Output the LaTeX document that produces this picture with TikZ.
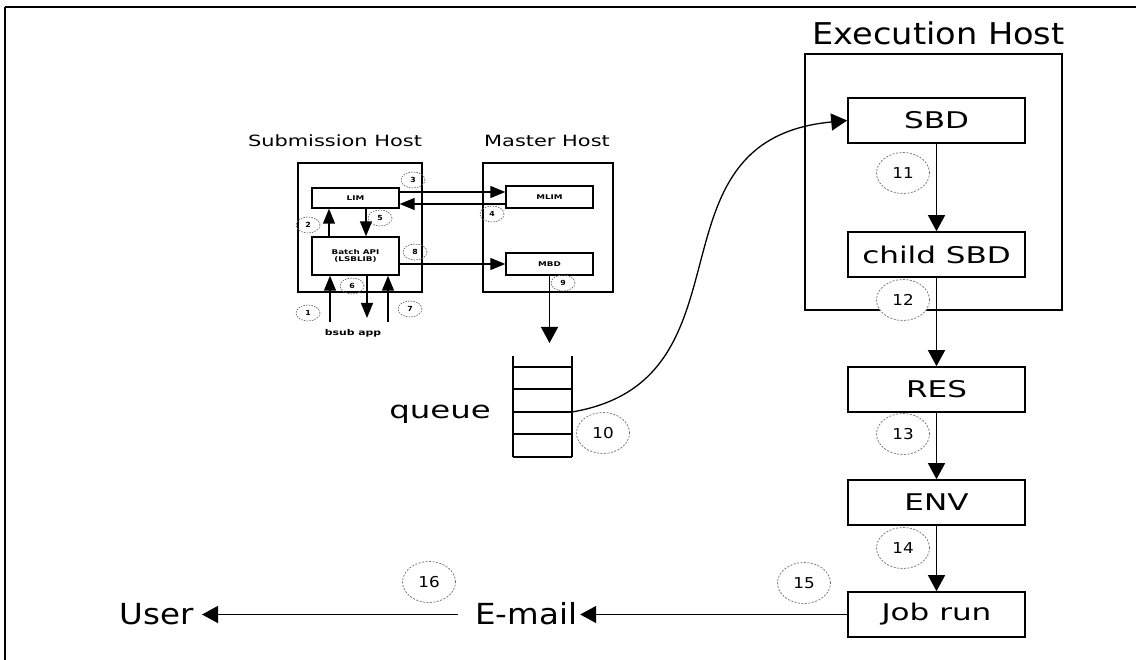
\documentclass[tikz,border=0pt]{standalone}
\usepackage{fontspec}
\setmainfont{DejaVu Sans}
\newfontfamily\widefont[FakeStretch=1.35]{DejaVu Sans}
\newfontfamily\midfont[FakeStretch=1.12]{DejaVu Sans}
\usetikzlibrary{arrows.meta,shapes.geometric}
\begin{document}
\begin{tikzpicture}[x=1pt,y=-1pt,
  box/.style={draw, line width=1.6pt, inner sep=0pt, minimum width=177pt, minimum height=45pt,
    font=\widefont\fontsize{23}{26}\selectfont},
  host/.style={draw, line width=1.6pt, inner sep=0pt},
  hostlabel/.style={anchor=base, inner sep=0pt, font=\widefont\fontsize{15.5}{16}\selectfont},
  sbox/.style={draw, line width=1.4pt, inner sep=0pt, minimum width=87pt, align=center,
    font=\widefont\bfseries\fontsize{6.5}{7.5}\selectfont},
  num/.style={draw=gray!85!black, fill=white, dash pattern=on 2pt off 1.5pt, line width=0.7pt, ellipse,
    inner sep=0pt, minimum width=53pt, minimum height=41pt, font=\midfont\fontsize{15}{15}\selectfont},
  snum/.style={draw=gray!85!black, dash pattern=on 1.5pt off 1.2pt, line width=0.7pt, ellipse,
    inner sep=0pt, minimum width=24pt, minimum height=16pt, font=\midfont\bfseries\fontsize{7}{7}\selectfont},
  arr/.style={-{Triangle[length=16pt,width=17pt]}, line width=1.4pt},
  sarr/.style={-{Triangle[length=15pt,width=12pt]}, line width=1.4pt},
  big/.style={inner sep=0pt, font=\midfont\fontsize{29}{30}\selectfont},
]
\useasboundingbox (0,0) rectangle (1136,660);
% frame
\draw[line width=2pt] (1136,7) -- (5,7);
\draw[line width=1.5pt] (5,7) -- (5,660);

% ---------- execution host ----------
\node[host, minimum width=257pt, minimum height=256pt] (exec) at (933.5,182) {};
\node[anchor=base, inner sep=0pt, font=\midfont\fontsize{30}{30}\selectfont] (execlabel) at (938.5,45) {Execution Host};
\node[box] (sbd) at (936.5,120.5) {SBD};
\node[box] (child) at (936.5,254.5) {child SBD};
\node[box] (res) at (936.5,389.5) {RES};
\node[box] (env) at (936.5,502.5) {ENV};
\node[box] (job) at (936.5,614.5) {Job run};

\draw[arr] (sbd) -- (child);
\draw[arr] (child) -- (res);
\draw[arr] (res) -- (env);
\draw[arr] (env) -- (job);

% ---------- bottom row ----------
\node[big, anchor=base west, inner xsep=3pt] (email) at (472,624) {E-mail};
\node[big, anchor=base east, inner xsep=8pt] (user) at (202,624) {User};
\draw[arr] (job.west) -- (job.west -| email.east);
\coordinate (estart) at ([xshift=-14pt]email.west |- job.west);
\draw[arr] (estart) -- (estart -| user.east);

% ---------- submission / master hosts ----------
\node[host, minimum width=124pt, minimum height=129pt] (subm) at (360,227.5) {};
\node[host, minimum width=130pt, minimum height=129pt] (mast) at (548,227.5) {};
\node[hostlabel] (submlabel) at (335,147) {Submission Host};
\node[hostlabel] (mastlabel) at (547,147) {Master Host};

\node[sbox, minimum height=20pt] (lim) at (355.5,198) {LIM};
\node[sbox, minimum height=38pt] (batch) at (355.5,256) {Batch API\\(LSBLIB)};
\node[sbox, minimum height=22pt] (mlim) at (549.5,197) {MLIM};
\node[sbox, minimum height=22pt] (mbd) at (549.5,264) {MBD};

\coordinate (y192) at (0,192);
\coordinate (y204) at (0,204);
\coordinate (x329) at (329,0);
\coordinate (x366) at (366,0);
\draw[sarr] (lim.east |- y192) -- (mlim.west |- y192);
\draw[sarr] (mlim.west |- y204) -- (lim.east |- y204);
\draw[sarr] (batch.east |- mbd.west) -- (mbd.west);
\draw[sarr] (batch.north -| x329) -- (lim.south -| x329);
\draw[sarr] (lim.south -| x366) -- (batch.north -| x366);

\coordinate (b1) at (330,322);
\coordinate (b2) at (367,318);
\coordinate (b3) at (388,322);
\draw[sarr] (b1) -- (b1 |- batch.south);
\draw[sarr] (batch.south -| b2) -- (b2);
\draw[sarr] (b3) -- (b3 |- batch.south);
\node[inner sep=0pt, font=\widefont\bfseries\fontsize{8}{8}\selectfont] (bsub) at (353,333) {bsub app};

% ---------- queue ----------
\node[minimum width=59pt, minimum height=101pt, inner sep=0pt] (queue) at (542.5,406.5) {};
\draw[line width=2.2pt] (queue.north west) -- (queue.south west);
\draw[line width=2.2pt] (queue.north east) -- (queue.south east);
\foreach \yy in {367,389,412,434,457}
  \draw[line width=1.4pt] (queue.west |- 0,\yy) -- (queue.east |- 0,\yy);
\node[anchor=base, inner sep=0pt, font=\widefont\fontsize{24}{24}\selectfont] (qlabel) at (440,419) {queue};
\coordinate (qin) at (549.5,343);
\draw[arr] (mbd.south) -- (mbd.south |- qin);
\coordinate (qout) at (572,412);
\draw[arr, line width=1.3pt] (qout) .. controls (760,380) and (640,140) .. (sbd.west);

% ---------- step numbers ----------
\node[num] (n10) at (603,433) {10};
\node[num] (n11) at (903,173) {11};
\node[num] (n12) at (903,300) {12};
\node[num] (n13) at (903,434) {13};
\node[num] (n14) at (903,548) {14};
\node[num] (n15) at (804,583) {15};
\node[num] (n16) at (429,582) {16};

\node[snum] (n1) at (308,313) {1};
\node[snum] (n2) at (308,225) {2};
\node[snum] (n3) at (413,180) {3};
\node[snum] (n4) at (492,214) {4};
\node[snum] (n5) at (380,218) {5};
\node[snum] (n6) at (352,286) {6};
\node[snum] (n7) at (410,309) {7};
\node[snum] (n8) at (415,252) {8};
\node[snum] (n9) at (563,283) {9};
\end{tikzpicture}
\end{document}
